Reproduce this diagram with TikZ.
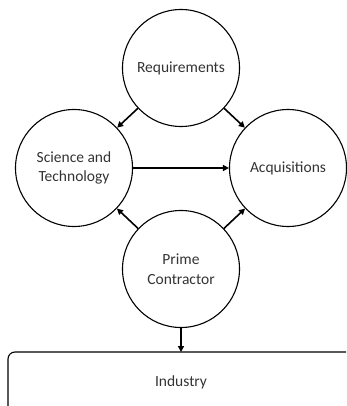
\documentclass[tikz,border=0pt]{standalone}
\usepackage{fontspec}
\setmainfont{Carlito}
\usetikzlibrary{arrows.meta}
\begin{document}
\begin{tikzpicture}[x=1pt,y=-1pt,
  lbl/.style={font=\fontsize{15.5}{19.5}\selectfont,text=black!80},
  circ/.style={circle,draw,line width=1.1pt,minimum size=117pt,inner sep=0pt,align=center,lbl},
  conn/.style={line width=1.6pt,-{Triangle[length=6pt,width=6pt]}},
  boxstyle/.style={draw,line width=1.1pt,rounded corners=7pt}]
\useasboundingbox (0,0) rectangle (346,406);
\node[circ] (req) at (181,68) {Requirements};
\node[circ] (st) at (74,168) {Science and\\Technology};
\node[circ] (acq) at (288,168) {Acquisitions};
\node[circ] (pc) at (181,269) {Prime\\Contractor};
\begin{scope}
\clip (0,0) rectangle (346,406);
\draw[boxstyle] (8,352) rectangle (370,430);
\end{scope}
\node[lbl] (ind) at (181,382) {Industry};
\coordinate (indtop) at (181,352);
\draw[conn] (req) -- (st);
\draw[conn] (req) -- (acq);
\draw[conn] (st) -- (acq);
\draw[conn] (pc) -- (st);
\draw[conn] (pc) -- (acq);
\draw[conn] (pc) -- (indtop);
\end{tikzpicture}
\end{document}
